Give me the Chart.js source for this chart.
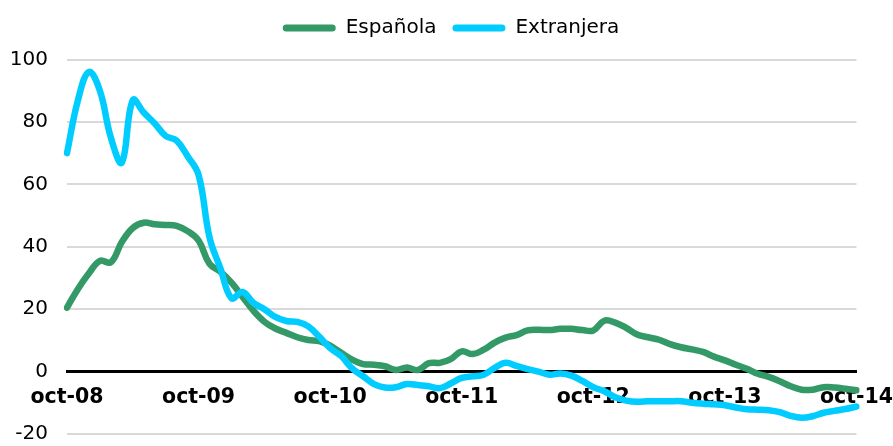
<!DOCTYPE html>
<html><head><meta charset="utf-8">
<script src="https://cdn.jsdelivr.net/npm/chart.js@4.4.0/dist/chart.umd.min.js"></script>
<style>html,body{margin:0;padding:0;background:#fff}#wrap{width:893px;height:446px}</style>
</head><body><div id="wrap"><canvas id="c" width="893" height="446"></canvas></div>
<script>
// Month names (Spanish) and years used to build the monthly categories oct-08 .. oct-14
const monthNames = ['ene','feb','mar','abr','may','jun','jul','ago','sep','oct','nov','dic'];
const categories = [];
for (let i = 0; i < 73; i++) {
  const t = 9 + i;
  categories.push(monthNames[t % 12] + '-' + String(8 + Math.floor(t / 12)).padStart(2, '0'));
}
// Tick labels shown on the x axis
const xTickLabels = ['oct-08','oct-09','oct-10','oct-11','oct-12','oct-13','oct-14'];

const seriesNames = ['Española', 'Extranjera'];

const espanola = [
  20.5, 26.5, 31.5, 35.5, 35, 41.5, 46, 47.7, 47.2, 47, 46.7, 45,
  42, 34.5, 32, 28.5, 24, 19.5, 16, 13.8, 12.4, 11, 10.1, 9.8,
  8.3, 6, 3.8, 2.4, 2.2, 1.7, 0.5, 1.3, 0.5, 2.7, 2.8, 4,
  6.5, 5.6, 7, 9.3, 10.9, 11.7, 13.2, 13.4, 13.3, 13.7, 13.7, 13.3,
  13.2, 16.3, 15.7, 14, 11.9, 11, 10.2, 8.8, 7.8, 7.1, 6.3, 4.8,
  3.6, 2.2, 0.9, -0.7, -1.7, -3.1, -4.7, -5.8, -5.8, -5, -5.1, -5.5,
  -6
];

const extranjera = [
  70, 87, 96, 90, 75, 67, 87, 83, 79.5, 75.5, 74, 69,
  63, 43, 33, 23.5, 25.5, 22, 20, 17.5, 16.2, 15.9, 14.5, 11.2,
  7.5, 5, 1, -1.5, -4, -5.1, -5, -4, -4.3, -4.7, -5.3, -3.8,
  -2, -1.5, -1, 1.2, 2.8, 1.8, 0.8, 0, -1, -0.6, -1.3, -3,
  -5, -6.3, -8.2, -9.3, -9.7, -9.5, -9.5, -9.5, -9.5, -10, -10.3, -10.5,
  -10.8, -11.5, -12.1, -12.2, -12.4, -13, -14.2, -14.8, -14.3, -13.2, -12.6, -12,
  -11.2
];

const GREEN = '#339966';
const CYAN = '#00CCFF';
const FONT = 'DejaVu Sans';

const legendTweak = {
  id: 'legendTweak',
  beforeInit(chart) {
    const fit = chart.legend.fit;
    chart.legend.fit = function () { fit.call(this); this.height += 11.5; };
  },
  afterLayout(chart) {
    chart.legend.left += 22;
    chart.legend.right += 22;
  }
};

new Chart(document.getElementById('c'), {
  type: 'line',
  data: {
    labels: categories,
    datasets: [
      { label: seriesNames[0], data: espanola, borderColor: GREEN, backgroundColor: GREEN,
        borderWidth: 6.5, pointRadius: 0, tension: 0.4, order: 1,
        borderCapStyle: 'round', borderJoinStyle: 'round' },
      { label: seriesNames[1], data: extranjera, borderColor: CYAN, backgroundColor: CYAN,
        borderWidth: 6.5, pointRadius: 0, tension: 0.4, order: 0,
        borderCapStyle: 'round', borderJoinStyle: 'round' }
    ]
  },
  plugins: [legendTweak],
  options: {
    responsive: false,
    animation: false,
    devicePixelRatio: 1,
    layout: { padding: { top: 2, right: 35, bottom: -2, left: 0 } },
    plugins: {
      tooltip: { enabled: false },
      legend: {
        position: 'top',
        labels: {
          boxWidth: 53, boxHeight: 7, padding: 16, color: '#000',
          font: { family: FONT, size: 20 },
          sort: (a, b) => a.datasetIndex - b.datasetIndex,
          generateLabels: (chart) => Chart.defaults.plugins.legend.labels.generateLabels(chart).map(l => ({
            ...l, fillStyle: chart.data.datasets[l.datasetIndex].borderColor,
            strokeStyle: 'rgba(0,0,0,0)', lineWidth: 0, borderRadius: 3.5
          }))
        }
      }
    },
    scales: {
      x: {
        position: { y: 0 },
        z: 1,
        grid: { display: false, drawTicks: true, tickLength: 14 },
        border: { display: true, color: '#000', width: 3 },
        ticks: {
          autoSkip: false, maxRotation: 0, minRotation: 0, padding: 0, color: '#000',
          font: { family: FONT, size: 20.5, weight: 'bold' },
          callback: (v, i) => (i % 12 === 0 ? xTickLabels[i / 12] : '')
        }
      },
      y: {
        min: -20, max: 100,
        ticks: { stepSize: 20, padding: 0, color: '#000', font: { family: FONT, size: 20 } },
        grid: { drawTicks: true, tickLength: 19, tickColor: 'rgba(0,0,0,0)', lineWidth: 2,
          color: (ctx) => (ctx.tick && ctx.tick.value === 0 ? 'rgba(0,0,0,0)' : '#d9d9d9') },
        border: { display: false },
        afterFit: (s) => { s.width = 67; }
      }
    }
  }
});
</script>
</body></html>
